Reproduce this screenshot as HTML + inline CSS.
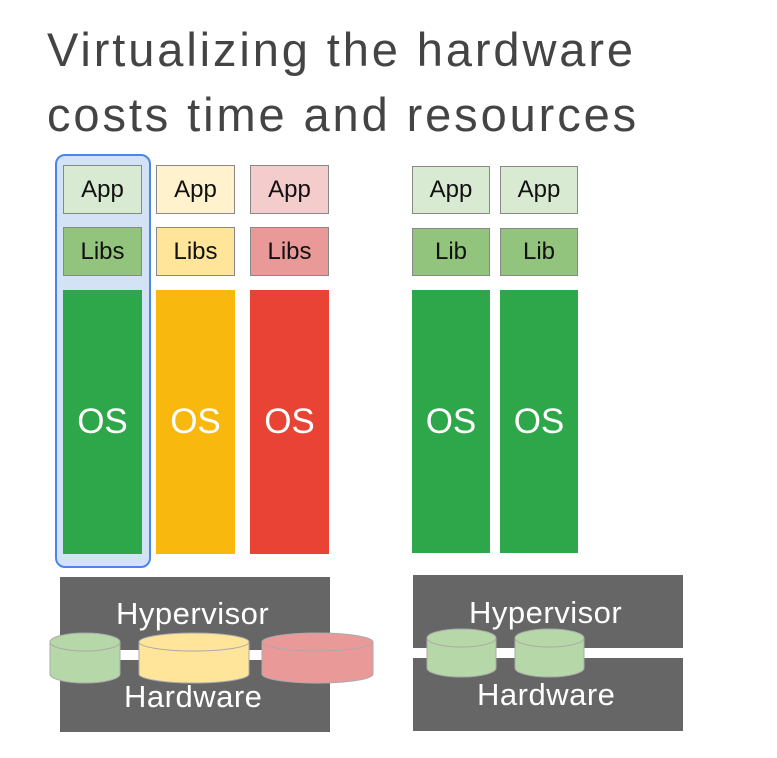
<!DOCTYPE html>
<html><head><style>
body{margin:0;width:777px;height:758px;background:#fff;position:relative;overflow:hidden;font-family:"Liberation Sans",sans-serif}
.a{position:absolute;box-sizing:border-box;display:flex;align-items:center;justify-content:center}
.b{border:1.5px solid #888;font-size:24px;color:#111}
.os{font-size:35px;color:#fff}
.t{position:absolute;left:47px;font-size:47px;letter-spacing:2.9px;color:#444;line-height:1}
.g{background:#666;position:absolute}
.lbl{position:absolute;color:#fff;font-size:31px;letter-spacing:0.5px}
</style></head><body>
<div class="t" style="top:26px">Virtualizing the hardware</div>
<div class="t" style="top:91px">costs time and resources</div>

<div class="a" style="left:55px;top:154px;width:96px;height:414px;background:#d3e2f5;border:2.5px solid #4a86e8;border-radius:10px"></div>

<div class="a b" style="left:63px;top:165px;width:79px;height:49px;background:#d9ead3">App</div>
<div class="a b" style="left:63px;top:227px;width:79px;height:49px;background:#93c47d">Libs</div>
<div class="a os" style="left:63px;top:290px;width:79px;height:264px;background:#2ea64a">OS</div>

<div class="a b" style="left:156px;top:165px;width:79px;height:49px;background:#fff2cc">App</div>
<div class="a b" style="left:156px;top:227px;width:79px;height:49px;background:#ffe599">Libs</div>
<div class="a os" style="left:156px;top:290px;width:79px;height:264px;background:#f9b80e">OS</div>

<div class="a b" style="left:250px;top:165px;width:79px;height:49px;background:#f4cccc">App</div>
<div class="a b" style="left:250px;top:227px;width:79px;height:49px;background:#ea9999">Libs</div>
<div class="a os" style="left:250px;top:290px;width:79px;height:264px;background:#e94335">OS</div>

<div class="a b" style="left:412px;top:166px;width:78px;height:48px;background:#d9ead3">App</div>
<div class="a b" style="left:412px;top:228px;width:78px;height:48px;background:#93c47d">Lib</div>
<div class="a os" style="left:412px;top:290px;width:78px;height:263px;background:#2ea64a">OS</div>

<div class="a b" style="left:500px;top:166px;width:78px;height:48px;background:#d9ead3">App</div>
<div class="a b" style="left:500px;top:228px;width:78px;height:48px;background:#93c47d">Lib</div>
<div class="a os" style="left:500px;top:290px;width:78px;height:263px;background:#2ea64a">OS</div>

<div class="g" style="left:60px;top:577px;width:270px;height:155px"></div>
<div style="position:absolute;left:60px;top:650px;width:270px;height:10px;background:#fff"></div>
<div class="lbl" style="left:116px;top:596px">Hypervisor</div>
<div class="lbl" style="left:124px;top:679px">Hardware</div>

<div class="g" style="left:413px;top:575px;width:270px;height:156px"></div>
<div style="position:absolute;left:413px;top:648px;width:270px;height:10px;background:#fff"></div>
<div class="lbl" style="left:469px;top:595px">Hypervisor</div>
<div class="lbl" style="left:477px;top:677px">Hardware</div>

<svg width="777" height="758" style="position:absolute;left:0;top:0">
<g stroke="#aaa" stroke-width="1">
<path d="M50 642 v32 a35 9 0 0 0 70 0 v-32" fill="#b6d7a8"/><ellipse cx="85" cy="642" rx="35" ry="9" fill="#b6d7a8"/>
<path d="M139 642 v32 a55 9 0 0 0 110 0 v-32" fill="#ffe599"/><ellipse cx="194" cy="642" rx="55" ry="9" fill="#ffe599"/>
<path d="M262 642 v32 a55 9 0 0 0 111 0 v-32" fill="#ea9999"/><ellipse cx="317.5" cy="642" rx="55.5" ry="9" fill="#ea9999"/>
<path d="M427 638 v30 a34.5 9 0 0 0 69 0 v-30" fill="#b6d7a8"/><ellipse cx="461.5" cy="638" rx="34.5" ry="9" fill="#b6d7a8"/>
<path d="M515 638 v30 a34.5 9 0 0 0 69 0 v-30" fill="#b6d7a8"/><ellipse cx="549.5" cy="638" rx="34.5" ry="9" fill="#b6d7a8"/>
</g>
</svg>
</body></html>
